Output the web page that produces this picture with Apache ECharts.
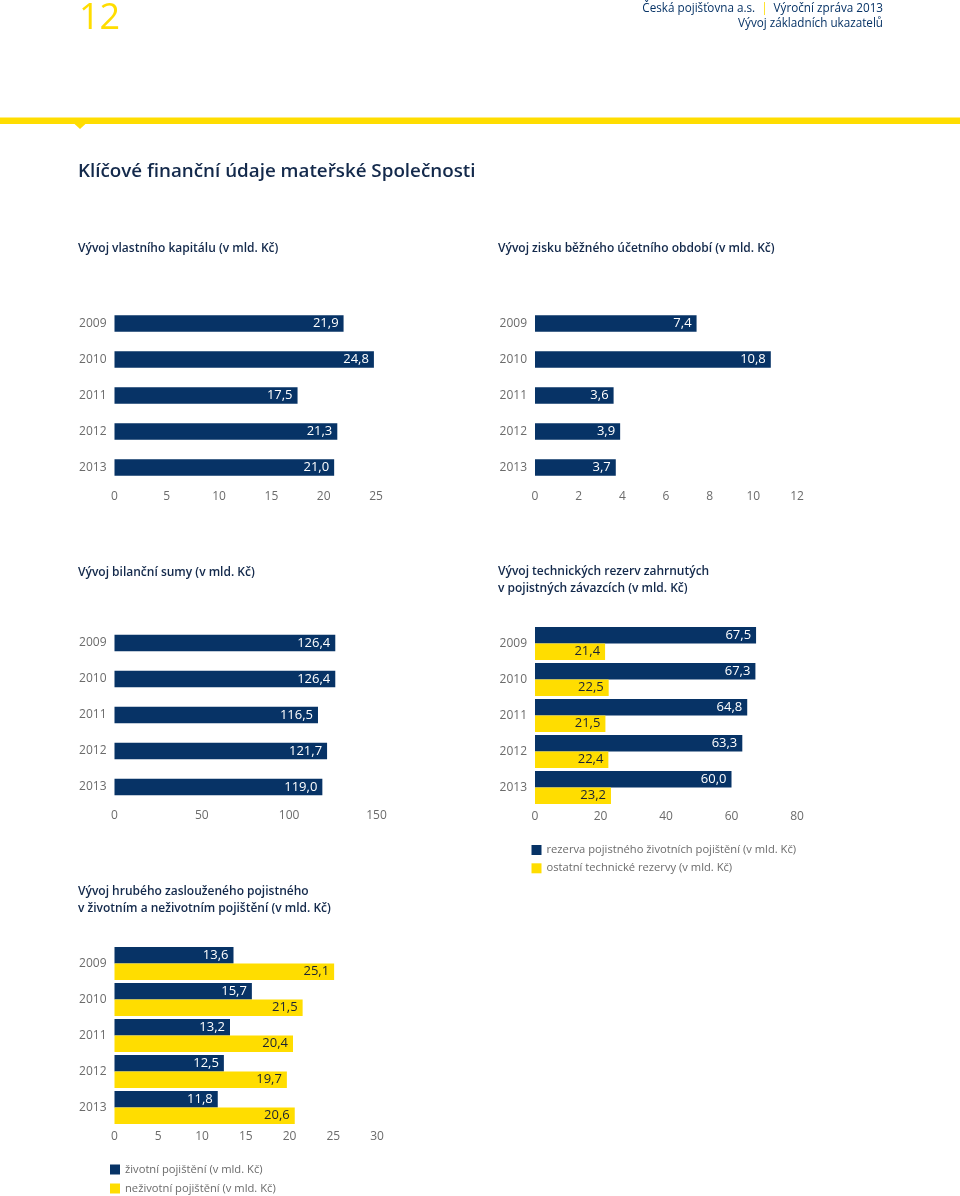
<!DOCTYPE html>
<html>
<head>
<meta charset="utf-8">
<script src="https://cdn.jsdelivr.net/npm/echarts@6/dist/echarts.min.js"></script>
<style>
html,body{margin:0;padding:0;background:#fff;}
#c{width:960px;height:1196px;}
</style>
</head>
<body>
<div id="c"></div>
<script>
// ---- data ----
const years = ['2009', '2010', '2011', '2012', '2013'];
const equity = [21.9, 24.8, 17.5, 21.3, 21.0];
const profit = [7.4, 10.8, 3.6, 3.9, 3.7];
const balance = [126.4, 126.4, 116.5, 121.7, 119.0];
const lifeReserve = [67.5, 67.3, 64.8, 63.3, 60.0];
const otherReserve = [21.4, 22.5, 21.5, 22.4, 23.2];
const lifePremium = [13.6, 15.7, 13.2, 12.5, 11.8];
const nonLifePremium = [25.1, 21.5, 20.4, 19.7, 20.6];
const axisMax = [25, 12, 150, 80, 30];
const axisStep = [5, 2, 50, 20, 5];
const seriesNames = {
  lifeReserve: 'rezerva pojistného životních pojištění (v mld. Kč)',
  otherReserve: 'ostatní technické rezervy (v mld. Kč)',
  lifePremium: 'životní pojištění (v mld. Kč)',
  nonLifePremium: 'neživotní pojištění (v mld. Kč)'
};

const NAVY = '#073366';
const YELLOW = '#ffdd00';
const GRAY = '#6b6b6b';
const FONT = '"Open Sans", "Noto Sans", sans-serif';

const grids = [
  {left: 114.5, top: 305.5, width: 261.5, height: 180},
  {left: 535, top: 305.5, width: 262, height: 180},
  {left: 114.5, top: 625, width: 262, height: 180},
  {left: 535, top: 625.5, width: 262, height: 180},
  {left: 114.5, top: 945.5, width: 262.5, height: 180}
];

const fmt = p => p.value.toFixed(1).replace('.', ',');

const xAxes = grids.map((g, i) => ({
  type: 'value', gridIndex: i, min: 0, max: axisMax[i], interval: axisStep[i],
  splitLine: {show: false}, axisLine: {show: false}, axisTick: {show: false},
  axisLabel: {color: GRAY, fontSize: 12, fontFamily: FONT, margin: 5,
    formatter: v => String(v)}
}));
const yAxes = grids.map((g, i) => ({
  type: 'category', gridIndex: i, data: years, inverse: true,
  axisLine: {show: false}, axisTick: {show: false}, splitLine: {show: false},
  axisLabel: {color: GRAY, fontSize: 12, fontFamily: FONT, margin: 8}
}));

function bar(name, data, idx, color, labelColor, width) {
  return {
    type: 'bar', name: name, data: data, xAxisIndex: idx, yAxisIndex: idx,
    barWidth: width, barGap: '0%',
    itemStyle: {color: color},
    label: {show: true, position: 'insideRight', distance: 5, color: labelColor,
      fontSize: 13, fontFamily: FONT, formatter: fmt},
    animation: false
  };
}

const series = [
  bar('equity', equity, 0, NAVY, '#fff', 16.5),
  bar('profit', profit, 1, NAVY, '#fff', 16.5),
  bar('balance', balance, 2, NAVY, '#fff', 16.5),
  bar(seriesNames.lifeReserve, lifeReserve, 3, NAVY, '#fff', 16.5),
  bar(seriesNames.otherReserve, otherReserve, 3, YELLOW, '#1b2333', 16.5),
  bar(seriesNames.lifePremium, lifePremium, 4, NAVY, '#fff', 16.5),
  bar(seriesNames.nonLifePremium, nonLifePremium, 4, YELLOW, '#1b2333', 16.5)
];

function txt(x, y, text, size, weight, color, align) {
  return {type: 'text', x: x, y: y, silent: true,
    style: {text: text, fill: color, font: (weight || 'normal') + ' ' + size + 'px ' + FONT,
      textAlign: align || 'left', textVerticalAlign: 'middle'}};
}

const TITLE = '#13294b';
const graphic = [
  {type: 'rect', shape: {x: 0, y: 117.5, width: 960, height: 6.5}, style: {fill: YELLOW}, silent: true},
  {type: 'polygon', shape: {points: [[74, 123.5], [86, 123.5], [80, 129]]}, style: {fill: YELLOW}, silent: true},
  txt(79, 19, '12', 36, 'normal', YELLOW),
  {type: 'text', x: 883, y: 9, silent: true,
    style: {text: '{a|Česká pojišťovna a.s.}{b| | }{a|Výroční zpráva 2013}',
      textAlign: 'right', textVerticalAlign: 'middle',
      rich: {a: {fontSize: 11.7, fontFamily: FONT, fill: NAVY, color: NAVY},
             b: {fontSize: 11.7, fontFamily: FONT, fill: YELLOW, color: YELLOW, padding: [0, 3, 0, 3]}}}},
  txt(883, 24, 'Vývoj základních ukazatelů', 11.7, 'normal', NAVY, 'right'),
  txt(78, 172, 'Klíčové finanční údaje mateřské Společnosti', 18.8, '600', TITLE),
  txt(78, 249, 'Vývoj vlastního kapitálu (v mld. Kč)', 12, '600', TITLE),
  txt(498, 249, 'Vývoj zisku běžného účetního období (v mld. Kč)', 12, '600', TITLE),
  txt(78, 573, 'Vývoj bilanční sumy (v mld. Kč)', 12, '600', TITLE),
  txt(498, 572, 'Vývoj technických rezerv zahrnutých', 12, '600', TITLE),
  txt(498, 589, 'v pojistných závazcích (v mld. Kč)', 12, '600', TITLE),
  txt(78, 892, 'Vývoj hrubého zaslouženého pojistného', 12, '600', TITLE),
  txt(78, 909, 'v životním a neživotním pojištění (v mld. Kč)', 12, '600', TITLE)
];

const legendCommon = {
  orient: 'vertical', icon: 'rect', itemWidth: 10, itemHeight: 10, padding: 0,
  textStyle: {color: GRAY, fontSize: 11.2, fontFamily: FONT, lineHeight: 14},
  selectedMode: false, height: 60
};

const option = {
  backgroundColor: '#fff',
  animation: false,
  grid: grids,
  xAxis: xAxes,
  yAxis: yAxes,
  series: series,
  legend: [
    Object.assign({}, legendCommon, {left: 531.5, top: 843, itemGap: 4.3,
      data: [seriesNames.lifeReserve, seriesNames.otherReserve]}),
    Object.assign({}, legendCommon, {left: 110, top: 1162.5, itemGap: 5,
      data: [seriesNames.lifePremium, seriesNames.nonLifePremium]})
  ],
  graphic: graphic
};

const chart = echarts.init(document.getElementById('c'), null, {renderer: 'canvas'});
chart.setOption(option);
</script>
</body>
</html>
